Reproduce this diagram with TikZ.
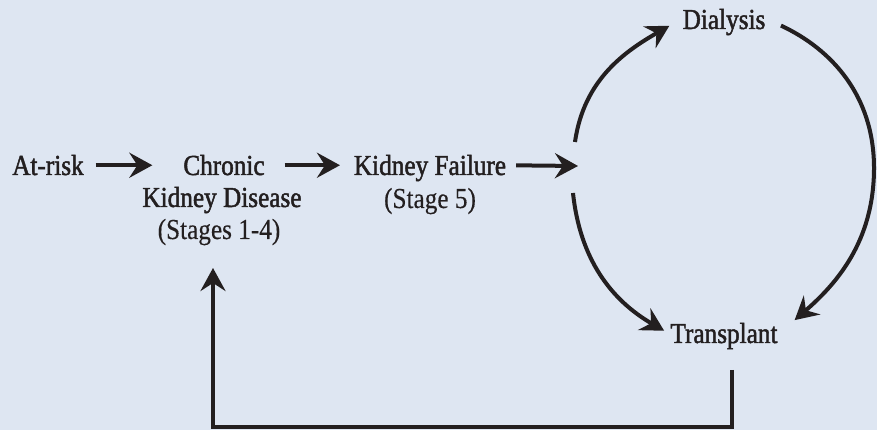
\documentclass[tikz,border=0pt]{standalone}
\usepackage{fontspec}
\setmainfont{Liberation Serif}
\newfontfamily\heavyfont[FakeBold=1.6, FakeStretch=0.87]{Liberation Serif}
\newfontfamily\thinfont[FakeBold=0.3, FakeStretch=0.87]{Liberation Serif}
\usetikzlibrary{arrows.meta}
\definecolor{bgblue}{RGB}{222,230,242}
\definecolor{ink}{RGB}{35,31,32}

\begin{document}
\begin{tikzpicture}[x=1pt, y=1pt, line width=4pt, color=ink,
	lbl/.style={font=\heavyfont\fontsize{29}{33}\selectfont, inner sep=0pt, text height=19.5pt, text depth=0pt},
	sub/.style={lbl, font=\thinfont\fontsize{29}{33}\selectfont},
	arr/.style={-{Stealth[length=23pt, width=25pt, inset=8pt]}}]
	\fill[bgblue] (0,0) rectangle (877,430);
	\useasboundingbox (0,0) rectangle (877,430);
	\node[lbl] (atrisk) at (48,264.75) {At-risk};
	\node[lbl] (ckd) at (224,264.75) {Chronic};
	\node[lbl] (kd) at (222,232.75) {Kidney Disease};
	\node[sub] (stages) at (219,200.75) {(Stages 1-4)};
	\node[lbl] (kf) at (430,264.75) {Kidney Failure};
	\node[sub] (stage5) at (430,231.75) {(Stage 5)};
	\node[lbl] (dial) at (724,410.75) {Dialysis};
	\node[lbl] (trans) at (724,96.75) {Transplant};
	\coordinate (split) at (578,264);
	\coordinate (upstart) at (575,288);
	\coordinate (downstart) at (573,237);
	\coordinate (rim) at (874,262);
	\coordinate (ret) at (213,3);
	\draw[arr, shorten <=10pt, shorten >=29pt] (atrisk.east) -- (ckd.west);
	\draw[arr, shorten <=18pt, shorten >=12pt] (ckd.east) -- (kf.west);
	\draw[arr, shorten <=8pt] (kf.east) -- (split);
	\draw[arr, shorten >=13pt] (upstart) to[out=82, in=210] (dial.west);
	\draw[arr, shorten >=5pt] (downstart) to[out=-84, in=150] (trans.west);
	\draw[arr, shorten <=15pt, shorten >=20pt] (dial.east) to[out=-25, in=90] (rim) to[out=-90, in=41] (trans.east);
	\draw[arr, shorten <=25pt, shorten >=27pt] ([xshift=8pt]trans.south) |- (ret) -- (ret |- stages.south);
\end{tikzpicture}
\end{document}
